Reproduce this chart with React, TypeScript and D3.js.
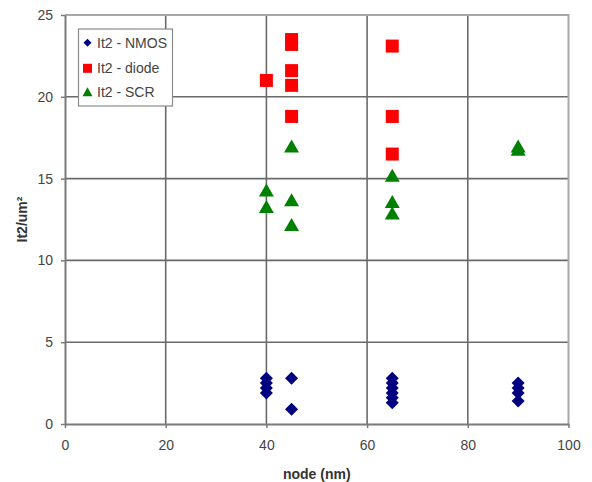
import { useEffect, useRef } from 'react';
import * as d3 from 'd3';

// node (nm) vs It2/um² for each protection device
const nmosNode = [40, 40, 40, 40, 45, 45, 65, 65, 65, 65, 65, 65, 90, 90, 90, 90];
const nmosIt2 = [2.8, 2.5, 2.2, 1.9, 2.8, 0.9, 2.8, 2.5, 2.2, 1.9, 1.6, 1.3, 2.5, 2.2, 1.9, 1.4];

const diodeNode = [40, 45, 45, 45, 45, 45, 65, 65, 65];
const diodeIt2 = [21.0, 23.5, 23.2, 21.6, 20.7, 18.8, 23.1, 18.8, 16.5];

const scrNode = [40, 40, 45, 45, 45, 65, 65, 65, 90, 90];
const scrIt2 = [14.3, 13.3, 17.0, 13.7, 12.2, 15.2, 13.6, 12.9, 17.0, 16.8];

const xTicks = [0, 20, 40, 60, 80, 100];
const yTicks = [0, 5, 10, 15, 20, 25];

const seriesNames = ['It2 - NMOS', 'It2 - diode', 'It2 - SCR'];

const diamond = (s) => `M0,${-s / 2}L${s / 2},0L0,${s / 2}L${-s / 2},0Z`;
const square = (s) => `M${-s / 2},${-s / 2}h${s}v${s}h${-s}Z`;
const triangle = (w, h) => `M0,${-h / 2}L${w / 2},${h / 2}L${-w / 2},${h / 2}Z`;

export default function App() {
  const svgRef = useRef(null);

  useEffect(() => {
    document.body.style.margin = '0';
    const svg = d3.select(svgRef.current);
    const width = 592;
    const height = 482;
    const margin = { top: 15, right: 23.5, bottom: 58, left: 65 };
    svg.attr('width', width).attr('height', height);
    svg.selectAll('*').remove();

    const x = d3.scaleLinear().domain([0, 100]).range([margin.left, width - margin.right]);
    const y = d3.scaleLinear().domain([0, 25]).range([height - margin.bottom, margin.top]);
    const font = 'Liberation Sans, Arial, sans-serif';

    // grid
    svg
      .append('g')
      .selectAll('line')
      .data(xTicks.slice(1, -1))
      .join('line')
      .attr('x1', (d) => x(d))
      .attr('x2', (d) => x(d))
      .attr('y1', y(0))
      .attr('y2', y(25))
      .attr('stroke', '#6a6a6a')
      .attr('stroke-width', 1.6);
    svg
      .append('g')
      .selectAll('line')
      .data(yTicks.slice(1, -1))
      .join('line')
      .attr('x1', x(0))
      .attr('x2', x(100))
      .attr('y1', (d) => y(d))
      .attr('y2', (d) => y(d))
      .attr('stroke', '#6a6a6a')
      .attr('stroke-width', 1.6);

    // frame top / right
    svg
      .append('path')
      .attr('d', `M${x(0)},${y(25)}H${x(100)}V${y(0)}`)
      .attr('fill', 'none')
      .attr('stroke', '#a8a8a8')
      .attr('stroke-width', 2);

    // axes
    const xAxis = svg
      .append('g')
      .attr('transform', `translate(0,${y(0)})`)
      .call(d3.axisBottom(x).tickValues(xTicks).tickSize(4).tickSizeOuter(0).tickPadding(12));
    const yAxis = svg
      .append('g')
      .attr('transform', `translate(${x(0)},0)`)
      .call(d3.axisLeft(y).tickValues(yTicks).tickSize(4).tickSizeOuter(0).tickPadding(8));
    [xAxis, yAxis].forEach((g) => {
      g.select('.domain').attr('stroke', '#7a7a7a').attr('stroke-width', 2);
      g.selectAll('.tick line').attr('stroke', '#7a7a7a').attr('stroke-width', 1.5);
      g.selectAll('.tick text')
        .attr('fill', '#444')
        .attr('font-family', font)
        .attr('font-size', 14);
    });

    // axis titles
    svg
      .append('text')
      .attr('x', (x(0) + x(100)) / 2)
      .attr('y', 479)
      .attr('text-anchor', 'middle')
      .attr('font-family', font)
      .attr('font-weight', 'bold')
      .attr('font-size', 14)
      .attr('fill', '#333')
      .text('node (nm)');
    svg
      .append('text')
      .attr('transform', `translate(27,${(y(0) + y(25)) / 2}) rotate(-90)`)
      .attr('text-anchor', 'middle')
      .attr('font-family', font)
      .attr('font-weight', 'bold')
      .attr('font-size', 14)
      .attr('fill', '#333')
      .text('It2/um²');

    // points
    svg
      .append('g')
      .selectAll('path')
      .data(d3.zip(nmosNode, nmosIt2))
      .join('path')
      .attr('transform', (d) => `translate(${x(d[0])},${y(d[1])})`)
      .attr('d', diamond(13))
      .attr('fill', '#000080');
    svg
      .append('g')
      .selectAll('path')
      .data(d3.zip(diodeNode, diodeIt2))
      .join('path')
      .attr('transform', (d) => `translate(${x(d[0])},${y(d[1])})`)
      .attr('d', square(13))
      .attr('fill', '#ff0000');
    svg
      .append('g')
      .selectAll('path')
      .data(d3.zip(scrNode, scrIt2))
      .join('path')
      .attr('transform', (d) => `translate(${x(d[0])},${y(d[1])})`)
      .attr('d', triangle(15, 13))
      .attr('fill', '#008000');

    // legend
    const legend = svg.append('g').attr('transform', 'translate(78.5,29)');
    legend
      .append('rect')
      .attr('width', 94)
      .attr('height', 77)
      .attr('fill', '#fff')
      .attr('stroke', '#8a8a8a')
      .attr('stroke-width', 1.2);
    const markers = [diamond(8), square(9), triangle(10, 9)];
    const colors = ['#000080', '#ff0000', '#008000'];
    const rowY = [13.7, 39.3, 62.7];
    seriesNames.forEach((name, i) => {
      legend
        .append('path')
        .attr('transform', `translate(9,${rowY[i]})`)
        .attr('d', markers[i])
        .attr('fill', colors[i]);
      legend
        .append('text')
        .attr('x', 18.5)
        .attr('y', rowY[i])
        .attr('dy', '0.36em')
        .attr('font-family', font)
        .attr('font-size', 14)
        .attr('fill', '#444')
        .text(name);
    });
  }, []);

  return <svg ref={svgRef} style={{ display: 'block' }}></svg>;
}
